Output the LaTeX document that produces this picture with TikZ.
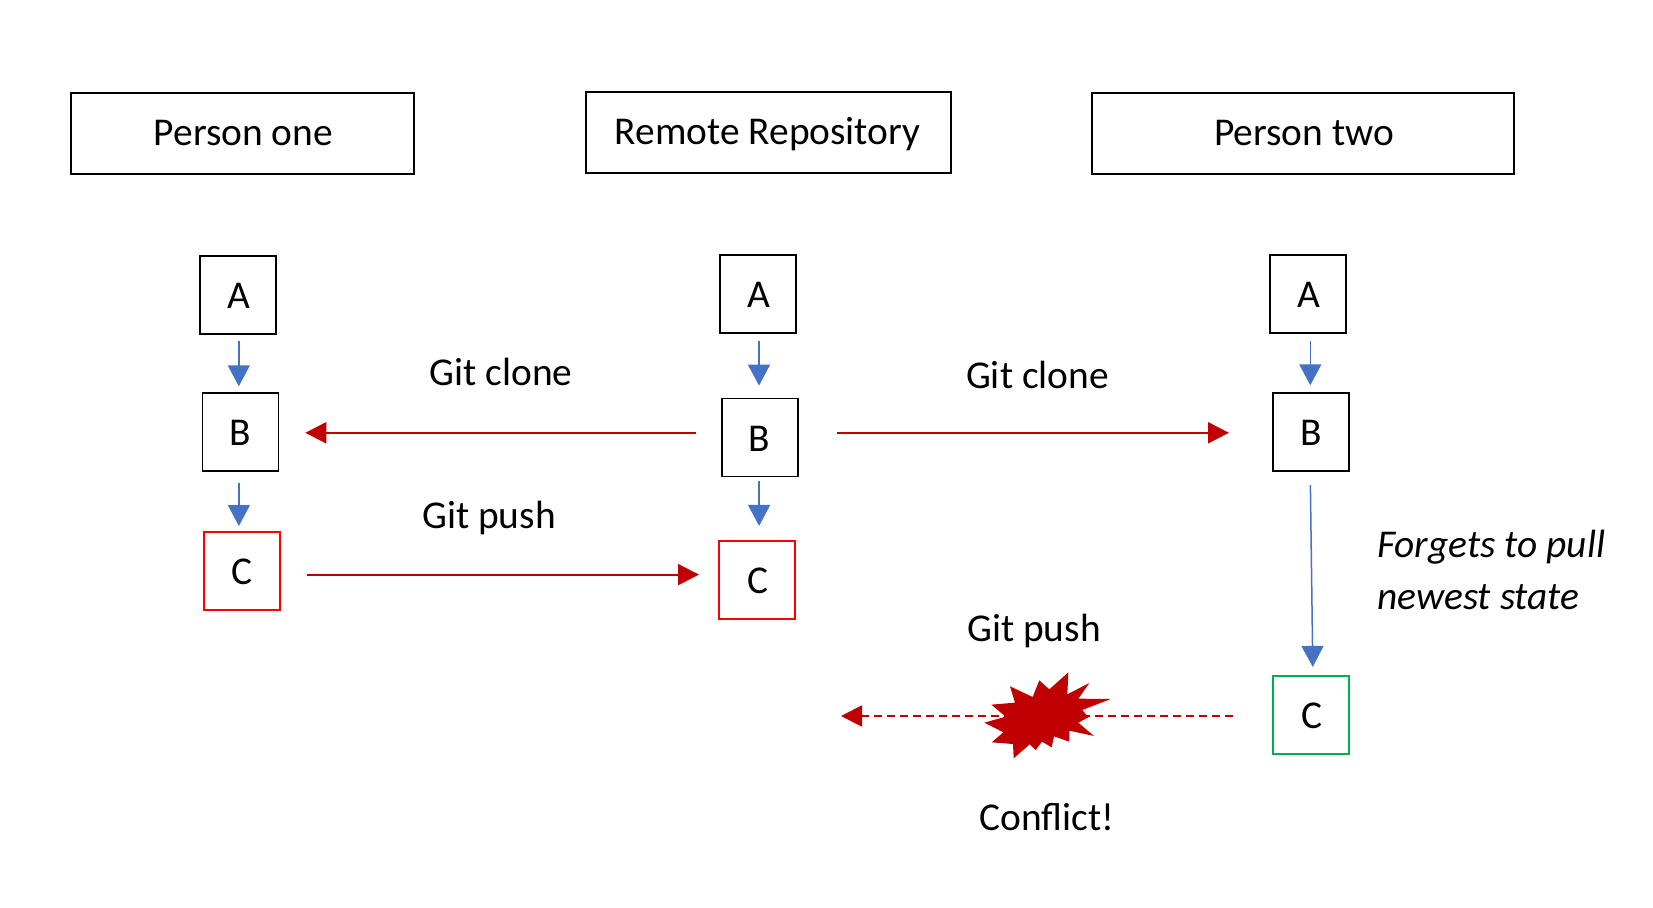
\documentclass[tikz,border=0pt]{standalone}
\usepackage{fontspec}
\setmainfont{Carlito}
\usetikzlibrary{arrows.meta}
\definecolor{bluearrow}{HTML}{4472C4}
\definecolor{darkred}{HTML}{C00000}
\definecolor{brightred}{HTML}{FF0000}
\definecolor{greenbox}{HTML}{00B050}
\tikzset{
  txt/.style={font=\fontsize{39.4}{51.7}\selectfont, text=black},
  header/.style={txt, draw=black, line width=2pt, minimum height=81pt, inner sep=0pt, text height=32pt, text depth=7pt},
  commit/.style={txt, draw=black, line width=1.8pt, minimum width=76pt, minimum height=78pt, inner sep=0pt, text height=27pt, text depth=0pt},
  lbl/.style={txt, anchor=base, inner sep=0pt},
  bluearr/.style={draw=bluearrow, line width=1.5pt, -{Triangle[length=21pt,width=22pt]}},
  redarr/.style={draw=darkred, line width=2pt, -{Triangle[length=21pt,width=21pt]}},
}
\begin{document}
\begin{tikzpicture}[x=1pt,y=-1pt]
\useasboundingbox (0,0) rectangle (1653,907);
% headers
\node[header, minimum width=343.7pt] (h1) at (242.5,133.4) {\hspace*{2pt}Person one};
\node[header, minimum width=364.8pt] (h2) at (768.5,132.3) {Remote Repository\hspace*{2pt}};
\node[header, minimum width=421.6pt] (h3) at (1303,133.4) {\hspace*{2pt}Person two};
% commits
\node[commit] (a1) at (238.3,295.2) {\hspace*{2pt}A};
\node[commit] (b1) at (240.4,432.2) {B};
\node[commit, draw=brightred] (c1) at (241.9,570.9) {C};
\node[commit] (a2) at (758,294.1) {\hspace*{2pt}A};
\node[commit] (b2) at (760.1,437.5) {B\hspace*{2pt}};
\node[commit, draw=brightred] (c2) at (756.9,579.8) {\hspace*{2pt}C};
\node[commit] (a3) at (1308.3,294.1) {\hspace*{2pt}A};
\node[commit] (b3) at (1310.9,432.2) {B};
\node[commit, draw=greenbox] (c3) at (1310.9,714.8) {\hspace*{2pt}C};
% blue arrows
\draw[bluearr, shorten <=6pt, shorten >=6pt] ([xshift=0.5pt]a1.south) -- ([xshift=0.5pt]a1.south |- b1.north);
\draw[bluearr, shorten <=10.5pt, shorten >=5pt] ([xshift=-1.5pt]b1.south) -- ([xshift=-1.5pt]b1.south |- c1.north);
\draw[bluearr, shorten <=7pt, shorten >=12pt] ([xshift=1pt]a2.south) -- ([xshift=1pt]a2.south |- b2.north);
\draw[bluearr, shorten <=4pt, shorten >=14pt] ([xshift=-1pt]b2.south) -- ([xshift=-1pt]b2.south |- c2.north);
\draw[bluearr, shorten <=7pt, shorten >=7pt] ([xshift=2pt]a3.south) -- ([xshift=2pt]a3.south |- b3.north);
\draw[bluearr, shorten <=13pt, shorten >=8pt] ([xshift=-0.7pt]b3.south) -- ([xshift=2pt]c3.north);
% red arrows
\coordinate (cloneleft) at ([yshift=-0.6pt]b1.east);
\coordinate (cloneright) at ([yshift=-0.6pt]b3.west);
\draw[redarr, shorten <=25pt, shorten >=26pt] (b2.west |- cloneleft) -- (cloneleft);
\draw[redarr, shorten <=38pt, shorten >=43pt] (b2.east |- cloneright) -- (cloneright);
\coordinate (pushstart) at ([yshift=-3.7pt]c1.east);
\draw[redarr, shorten <=26pt, shorten >=19pt] (pushstart) -- (pushstart -| c2.west);
% failed push
\coordinate (pushend) at (841,716);
\draw[redarr, dash pattern=on 8pt off 5pt, shorten <=39pt] (c3.west |- pushend) -- (pushend);
% burst
\begin{scope}[shift={(800,620)},x=0.33333pt,y=-0.33333pt]
\fill[darkred] (805,157)--(802,223)--(868,189)--(835,236)--(932,237)--(847,270)--(865,292)--(835,308)--(882,348)--(808,332)--(808,365)--(762,349)--(755,382)--(726,365)--(707,390)--(689,373)--(641,415)--(639,372)--(575,367)--(610,337)--(553,308)--(617,290)--(574,254)--(645,248)--(630,199)--(698,231)--(718,181)--(748,208)--cycle;
\end{scope}
% labels
\node[lbl] (l1) at (501,385) {Git clone};
\node[lbl] (l2) at (1037.5,388) {Git clone};
\node[lbl] (l3) at (489,528) {Git push};
\node[lbl] (l4) at (1034,641) {Git push};
\node[lbl] (l5) at (1047,830) {Conflict!};
\node[txt, anchor=west, align=left, inner sep=0pt, font=\fontsize{39.4}{51.7}\selectfont\itshape] (l6) at (1377,570) {Forgets to pull\\newest state};
\end{tikzpicture}
\end{document}
